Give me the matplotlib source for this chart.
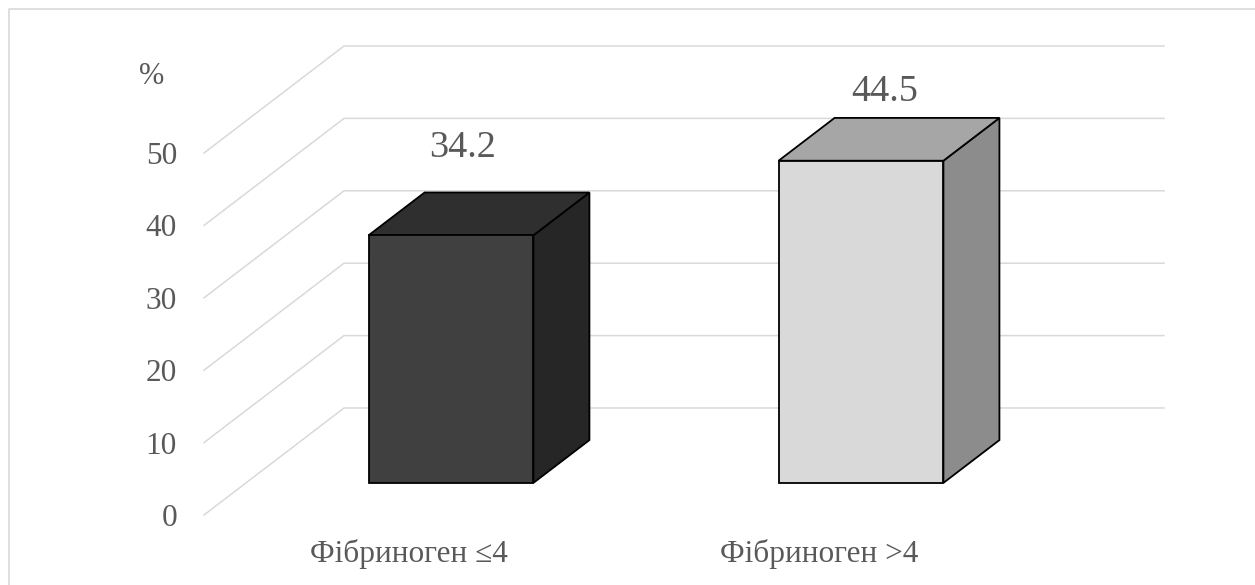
import matplotlib
matplotlib.use("Agg")
import matplotlib.pyplot as plt
from matplotlib.patches import Polygon
from matplotlib.lines import Line2D

# ── Data
categories = ["Фібриноген ≤4", "Фібриноген >4"]
values     = [34.2, 44.5]
y_ticks    = [0, 10, 20, 30, 40, 50]

# ── Style
FONT        = ["Liberation Serif", "DejaVu Serif"]
TEXT_COLOR  = "#595959"
GRID_COLOR  = "#d9d9d9"
FRONT_COLS  = ["#404040", "#d9d9d9"]
TOP_COLS    = ["#2f2f2f", "#a6a6a6"]
SIDE_COLS   = ["#262626", "#8c8c8c"]

# oblique depth of the whole box, in data units (x: categories, y: percent)
DX, DY = 0.3415, 14.78
BAR_HALF   = 0.201
DEPTH_FRONT, DEPTH_BACK = 0.3, 0.7
LABEL_OFFSETS = [(12, 45), (24, 26)]   # pixels, from front-centre at back-top level

plt.rcParams["font.family"] = FONT

W, H = 1255, 585
fig = plt.figure(figsize=(W / 100, H / 100), dpi=100)
ax = fig.add_axes([204 / W, 70 / H, 820 / W, 362 / H])
ax.set_xlim(0, len(categories))
ax.set_ylim(0, 50)
for s in ax.spines.values():
    s.set_visible(False)
ax.tick_params(length=0)
ax.set_facecolor("none")

# ── Walls: gridlines on side wall and back wall
n = len(categories)
for v in y_ticks:
    ax.add_line(Line2D([0, DX, n + DX], [v, v + DY, v + DY],
                       color=GRID_COLOR, lw=1.1, zorder=1, clip_on=False))

# ── Bars as oblique boxes
d = DEPTH_BACK - DEPTH_FRONT
for i, v in enumerate(values):
    x0 = i + 0.5 - BAR_HALF + DEPTH_FRONT * DX
    x1 = i + 0.5 + BAR_HALF + DEPTH_FRONT * DX
    y0 = DEPTH_FRONT * DY
    y1 = v + DEPTH_FRONT * DY
    side = [(x1, y0), (x1 + d * DX, y0 + d * DY), (x1 + d * DX, y1 + d * DY), (x1, y1)]
    top = [(x0, y1), (x1, y1), (x1 + d * DX, y1 + d * DY), (x0 + d * DX, y1 + d * DY)]
    front = [(x0, y0), (x1, y0), (x1, y1), (x0, y1)]
    for pts, col in ((side, SIDE_COLS[i]), (top, TOP_COLS[i]), (front, FRONT_COLS[i])):
        ax.add_patch(Polygon(pts, closed=True, facecolor=col, edgecolor="black",
                             lw=1.3, joinstyle="miter", zorder=3, clip_on=False))

    ox, oy = LABEL_OFFSETS[i]
    ax.annotate(f"{v:.1f}", xy=(i + 0.5 + DEPTH_FRONT * DX, v + DEPTH_BACK * DY),
                xytext=(ox, oy), textcoords="offset pixels",
                ha="center", va="center", fontsize=27.5, color=TEXT_COLOR,
                annotation_clip=False)

# ── Axis labels
ax.set_yticks(y_ticks)
ax.set_yticklabels([str(t) for t in y_ticks], fontsize=22.5, color=TEXT_COLOR)
ax.tick_params(axis="y", pad=19.5)
ax.set_xticks([i + 0.5 for i in range(n)])
ax.set_xticklabels(categories, fontsize=22.5, color=TEXT_COLOR)
ax.tick_params(axis="x", pad=17)

ax.annotate("%", xy=(0, 60.6), xytext=(-52, 0), textcoords="offset pixels",
            ha="center", va="center", fontsize=22, color=TEXT_COLOR,
            annotation_clip=False)

# ── Chart frame (left and top edges)
fig.add_artist(Line2D([8.5 / W, 8.5 / W, 1.0], [0.0, 1 - 9 / H, 1 - 9 / H],
                      color=GRID_COLOR, lw=1.2, transform=fig.transFigure))

fig.savefig("out.png", dpi=100)
